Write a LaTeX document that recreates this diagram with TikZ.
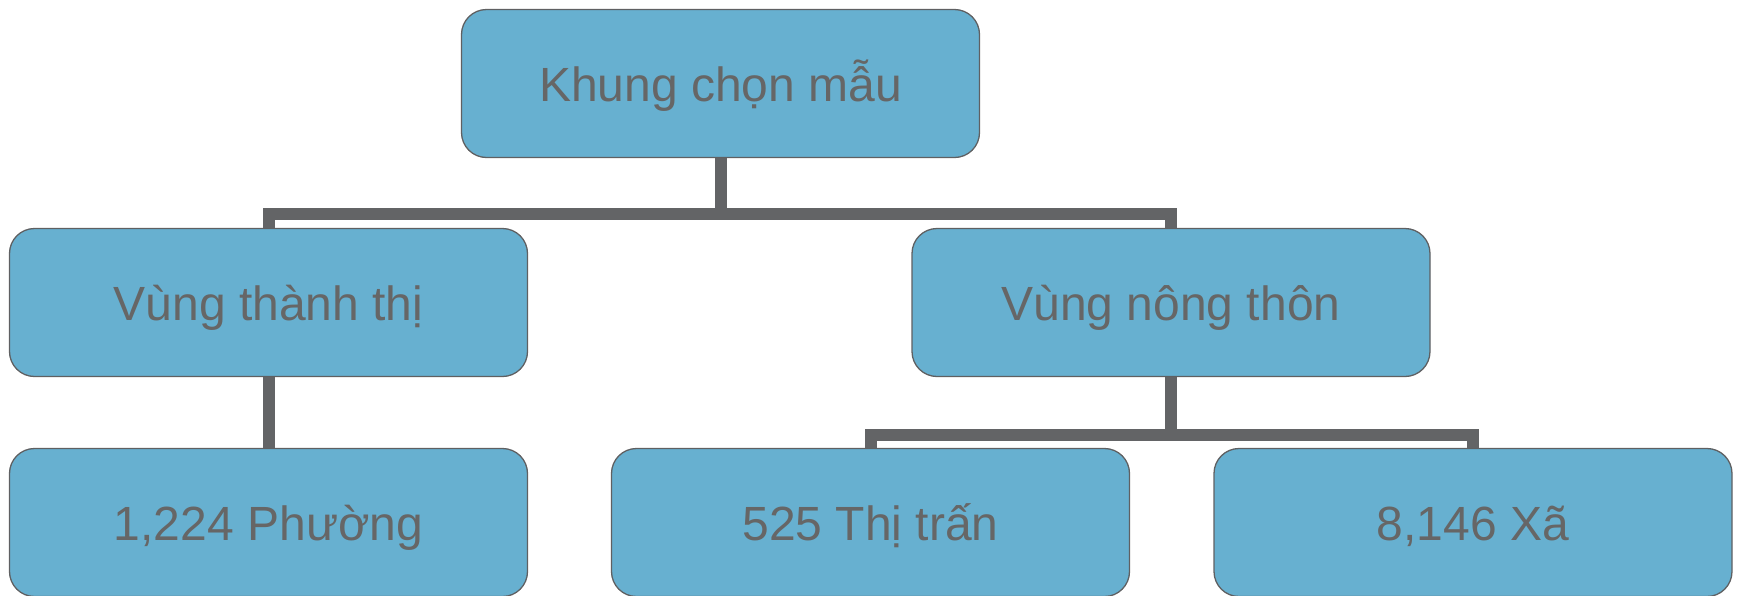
\documentclass[tikz,border=0pt]{standalone}
\usepackage{fontspec}
\setmainfont{Liberation Sans}
\definecolor{boxfill}{HTML}{67B0D0}
\definecolor{boxline}{HTML}{5F6062}
\definecolor{txt}{HTML}{666666}
\definecolor{conn}{HTML}{636466}
\begin{document}
\begin{tikzpicture}[x=1pt,y=-1pt,
  box/.style={draw=boxline, line width=1.3pt, fill=boxfill, rounded corners=25pt,
    minimum width=518pt, minimum height=148pt, inner sep=0pt,
    text height=35pt, text depth=0pt,
    text=txt, font=\fontsize{48}{57}\selectfont},
  link/.style={draw=conn, line width=12pt, line join=miter}]
\useasboundingbox (0,0) rectangle (1740,595);
\node[box] (top) at (720.5,83.5) {Khung chọn mẫu};
\node[box] (ml) at (268.5,302.5) {Vùng thành thị};
\node[box] (mr) at (1171,302.5) {Vùng nông thôn};
\node[box] (bl) at (268.5,522.5) {1,224 Phường};
\node[box] (bm) at (870.5,522.5) {525 Thị trấn};
\node[box] (br) at (1473,522.5) {8,146 Xã};
\coordinate (j1) at (720.5,214);
\coordinate (j2) at (1171,435);
\draw[link] (top.south) -- (j1);
\draw[link] (ml.north) |- (j1) -| (mr.north);
\draw[link] (ml.south) -- (bl.north);
\draw[link] (mr.south) -- (j2);
\draw[link] (bm.north) |- (j2) -| (br.north);
\end{tikzpicture}
\end{document}
